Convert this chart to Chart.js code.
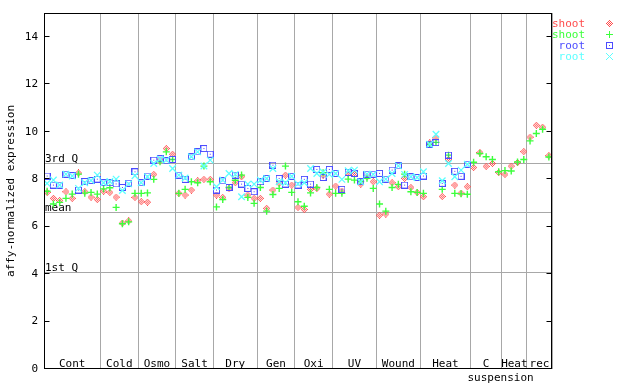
<!DOCTYPE html>
<html>
<head>
<meta charset="utf-8">
<script src="https://cdn.jsdelivr.net/npm/chart.js@4.4.1/dist/chart.umd.min.js"></script>
<style>
html,body{margin:0;padding:0;background:#fff;}
#wrap{width:640px;height:384px;}
</style>
</head>
<body>
<div id="wrap"><canvas id="c" width="640" height="384"></canvas></div>
<script>
// ---- data ----
const groups = ['Cont','Cold','Osmo','Salt','Dry','Gen','Oxi','UV','Wound','Heat','C','Heat','rec'];
const groupSub = ['','','','','','','','','','','suspension','',''];
const groupSizes = [9,6,6,6,7,6,6,7,7,8,5,4,4];

const shootRed = [7.44,7.19,7.10,7.47,7.19,8.26,7.47,7.24,7.14,
 7.49,7.44,7.24,6.15,6.24,7.23,
 7.05,7.03,8.20,8.80,9.29,9.05,
 7.40,7.33,7.54,7.93,7.99,7.99,
 7.33,7.23,7.60,7.85,8.10,7.33,7.19,
 7.19,6.77,7.54,7.83,8.17,7.75,
 6.81,6.72,7.57,7.61,8.17,7.37,
 7.71,7.50,8.24,8.20,7.79,8.10,7.89,
 6.48,6.53,7.85,7.68,8.03,7.65,7.44,
 7.26,9.53,9.74,7.27,8.83,7.75,7.41,7.68,
 8.49,9.12,8.54,8.66,8.28,
 8.20,8.55,8.70,9.16,
 9.77,10.27,10.19,8.99];
const shootGreen = [7.49,6.95,7.02,7.19,7.37,8.21,7.41,7.44,7.37,
 7.59,7.64,6.81,6.12,6.20,7.40,
 7.40,7.42,7.99,8.73,9.15,8.83,
 7.40,7.57,7.89,7.85,8.55,7.89,
 6.83,7.14,7.65,7.95,8.17,7.23,6.98,
 7.65,6.65,7.35,7.61,8.55,7.44,
 7.05,6.86,7.42,7.65,8.27,7.57,
 7.40,7.40,8.00,7.96,7.90,8.04,7.61,
 6.95,6.65,7.65,7.78,8.21,7.47,7.44,
 7.40,9.46,9.55,7.57,9.01,7.40,7.38,7.36,
 8.71,9.08,8.94,8.83,8.31,
 8.36,8.34,8.72,8.83,
 9.61,9.92,10.10,8.93];
const rootBlue = [8.13,7.75,7.75,8.21,8.15,7.54,7.90,7.94,8.00,
 7.85,7.85,7.80,7.65,7.83,8.31,
 7.85,8.13,8.80,8.86,8.77,8.83,
 8.17,7.99,8.94,9.15,9.29,9.05,
 7.54,7.93,7.65,8.17,7.79,7.61,7.47,
 7.89,8.03,8.59,8.03,7.79,8.12,
 7.75,7.99,7.79,8.41,8.07,8.41,
 8.24,7.57,8.28,8.24,7.89,8.21,8.21,
 8.24,8.00,8.38,8.56,7.75,8.10,8.07,
 8.13,9.47,9.54,7.82,9.01,8.33,8.12,8.63,
 null,null,null,null,null,null,null,null,null,null,null,null,null];
const rootCyan = [7.82,7.96,7.75,8.21,8.13,7.61,7.85,7.94,8.17,
 7.85,7.90,8.00,7.52,7.80,8.14,
 7.85,8.10,8.66,8.85,8.80,8.45,
 8.17,8.05,8.94,9.15,8.55,8.80,
 7.68,7.96,8.24,8.20,7.26,7.79,7.79,
 7.95,8.03,8.45,7.89,7.85,8.12,
 7.80,7.85,8.45,8.24,8.30,8.20,
 8.24,7.99,8.35,8.38,7.89,8.21,8.20,
 7.89,8.00,8.24,8.56,8.20,8.10,8.07,
 8.31,9.47,9.89,7.93,8.66,8.10,8.38,8.63,
 null,null,null,null,null,null,null,null,null,null,null,null,null];

const yTicks = [0,2,4,6,8,10,12,14];
const refLabels = ['3rd Q','mean','1st Q'];
const refValues = [8.66,6.60,4.08];
const legendLabels = ['shoot','shoot','root','root'];

// ---- styles ----
const RED='#ff4c4c', GREEN='#3cff3c', BLUE='#4c4cff', CYAN='#5cffff', GRID='#a8a8a8';
const FONT='11px "DejaVu Sans Mono"';

function makeSquare(color){
  const c=document.createElement('canvas'); c.width=7; c.height=7;
  const g=c.getContext('2d'); g.strokeStyle=color; g.lineWidth=1;
  g.strokeRect(0.5,0.5,6,6); g.fillStyle=color; g.fillRect(3,3,1,1); return c;
}
function makeDiamond(color){
  const c=document.createElement('canvas'); c.width=7; c.height=7;
  const g=c.getContext('2d'); g.fillStyle=color;
  for(let dx=-3;dx<=3;dx++) for(let dy=-3;dy<=3;dy++){
    const s=Math.abs(dx)+Math.abs(dy);
    if(s===3||s===1) g.fillRect(3+dx,3+dy,1,1);
  }
  return c;
}
const sqImg = makeSquare(BLUE);
const dmImg = makeDiamond(RED);

const toPts = arr => arr.map((v,i)=>({x:i+0.5,y:v}));
let boundaries=[0]; groupSizes.forEach(s=>boundaries.push(boundaries[boundaries.length-1]+s));
const N = boundaries[boundaries.length-1];

const overlay = {
  id:'overlay',
  beforeDatasetsDraw(chart){
    const {ctx, chartArea:a, scales:{x,y}} = chart;
    ctx.save();
    ctx.strokeStyle=GRID; ctx.lineWidth=1;
    ctx.font=FONT; ctx.fillStyle='#000';
    refValues.forEach((v,k)=>{
      const py=Math.round(y.getPixelForValue(v))+0.5;
      ctx.beginPath(); ctx.moveTo(a.left,py); ctx.lineTo(a.right,py); ctx.stroke();
      ctx.textAlign='left'; ctx.textBaseline='alphabetic';
      ctx.fillText(refLabels[k], a.left+1, py-1.5);
    });
    groups.forEach((g,k)=>{
      const x0=x.getPixelForValue(boundaries[k]), x1=x.getPixelForValue(boundaries[k+1]);
      ctx.textAlign='center';
      ctx.fillText(g,(x0+x1)/2,a.bottom-2);
      if(groupSub[k]){ ctx.textAlign='left'; ctx.fillText(groupSub[k], x0-3, a.bottom+12); }
    });
    ctx.restore();
  },
  afterDraw(chart){
    const {ctx, chartArea:a, scales:{y}} = chart;
    ctx.save();
    ctx.strokeStyle='#000'; ctx.lineWidth=1;
    const L=Math.round(a.left)+0.5, R=Math.round(a.right)-0.5, T=Math.round(a.top)+0.5, B=Math.round(a.bottom)-0.5;
    ctx.strokeRect(L,T,R-L,B-T);
    ctx.beginPath();
    yTicks.forEach(v=>{
      const py=Math.round(y.getPixelForValue(v))-0.5;
      ctx.moveTo(L,py); ctx.lineTo(L+5,py);
      ctx.moveTo(R,py); ctx.lineTo(R-5,py);
    });
    ctx.stroke();
    // legend
    const cols=[RED,GREEN,BLUE,CYAN];
    ctx.font=FONT; ctx.textAlign='right'; ctx.textBaseline='middle';
    legendLabels.forEach((t,k)=>{
      const ly=24+k*11;
      ctx.fillStyle=cols[k]; ctx.fillText(t,585,ly);
      const mx=609;
      if(k===0) ctx.drawImage(dmImg,mx-3,ly-4);
      if(k===2) ctx.drawImage(sqImg,mx-3,ly-4);
      if(k===1){ ctx.strokeStyle=GREEN; ctx.beginPath(); ctx.moveTo(mx-3,ly-0.5); ctx.lineTo(mx+4,ly-0.5); ctx.moveTo(mx+0.5,ly-4); ctx.lineTo(mx+0.5,ly+3); ctx.stroke(); }
      if(k===3){ ctx.strokeStyle=CYAN; ctx.beginPath(); ctx.moveTo(mx-3,ly-4); ctx.lineTo(mx+4,ly+3); ctx.moveTo(mx+4,ly-4); ctx.lineTo(mx-3,ly+3); ctx.stroke(); }
    });
    ctx.restore();
  }
};

Chart.defaults.font.family='"DejaVu Sans Mono"';
Chart.defaults.font.size=11;
Chart.defaults.color='#000';

new Chart(document.getElementById('c'),{
  type:'scatter',
  data:{datasets:[
    {label:'shoot', data:toPts(shootRed), pointStyle:dmImg, order:4},
    {label:'shoot', data:toPts(shootGreen), pointStyle:'cross', pointRadius:3.5, borderColor:GREEN, pointBorderWidth:1.4, order:3},
    {label:'root', data:toPts(rootBlue), pointStyle:sqImg, order:2},
    {label:'root', data:toPts(rootCyan), pointStyle:'crossRot', pointRadius:4.6, borderColor:CYAN, pointBorderWidth:1.3, order:1}
  ]},
  options:{
    responsive:false, animation:false, devicePixelRatio:1,
    layout:{padding:{left:0,top:13,right:88,bottom:0}},
    plugins:{legend:{display:false}, tooltip:{enabled:false}},
    scales:{
      x:{type:'linear', min:0, max:N,
        afterBuildTicks:s=>{ s.ticks=boundaries.map(v=>({value:v})); },
        afterFit:s=>{ s.height=15; },
        ticks:{display:false},
        grid:{color:GRID, lineWidth:1, drawTicks:false},
        border:{display:false}
      },
      y:{type:'linear', min:0, max:15,
        afterBuildTicks:s=>{ s.ticks=yTicks.map(v=>({value:v})); },
        afterFit:s=>{ s.width=44; },
        ticks:{padding:6, font:{size:11}},
        grid:{display:false, drawTicks:false},
        border:{display:false},
        title:{display:true, text:'affy-normalized expression', font:{size:11}, padding:{top:5,bottom:0}}
      }
    }
  },
  plugins:[overlay]
});
</script>
</body>
</html>
